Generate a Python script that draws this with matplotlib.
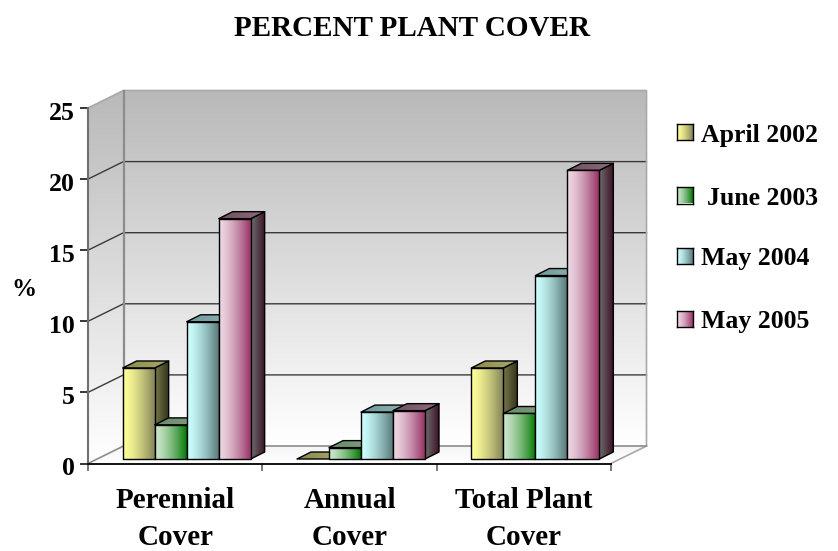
import matplotlib
matplotlib.use('Agg')
import matplotlib.pyplot as plt
from matplotlib.colors import to_rgb
from matplotlib.patches import Polygon
from matplotlib.transforms import ScaledTranslation
import numpy as np

categories = ['Perennial\nCover', 'Annual\nCover', 'Total Plant\nCover']
series_names = ['April 2002', 'June 2003', 'May 2004', 'May 2005']
april_2002 = [6.4, 0, 6.4]
june_2003 = [2.4, 0.8, 3.2]
may_2004 = [9.65, 3.3, 12.9]
may_2005 = [16.9, 3.4, 20.3]
y_ticks = [0, 5, 10, 15, 20, 25]

# face colours per series: front, side and top gradients (left -> right)
front_cols = [('#FFFF99', '#85855A'), ('#CCE6CC', '#057A05'), ('#CCFFFF', '#5A7A7A'), ('#EDD8E3', '#993366')]
side_cols = [('#77774A', '#33331A'), ('#5A7A5A', '#103A10'), ('#5F8080', '#2A4040'), ('#6E6E6E', '#3D1428')]
top_cols = [('#8A8A50', '#A8A868'), ('#6A8A6A', '#7F9F7F'), ('#6F9A9A', '#8FB0B0'), ('#70505F', '#8F6A7C')]

W, H = 838, 551
plt.rcParams['font.family'] = ['Liberation Serif', 'DejaVu Serif']
plt.rcParams['font.weight'] = 'bold'

fig = plt.figure(figsize=(W / 100, H / 100), dpi=100)
ax = fig.add_axes([88 / W, 1 - 463.5 / H, (611 - 88) / W, (463.5 - 108) / H])
ax.set_facecolor('none')

# size of one data unit in pixels, used to turn the 3d depth into data units
px_x = (611 - 88) / 3
px_y = (463.5 - 108) / 25
wall_dx, wall_dy = 35.5 / px_x, 17.5 / px_y
base_dx, base_dy = 11.5 / px_x, 4.5 / px_y
depth_dx, depth_dy = 14 / px_x, 7 / px_y
bar_w = 32 / px_x


def grad(c0, c1, vertical=False, n=64, gamma=1.0):
    a, b = np.array(to_rgb(c0)), np.array(to_rgb(c1))
    t = np.linspace(0, 1, n)[:, None] ** gamma
    img = a + (b - a) * t
    return img[:, None, :] if vertical else img[None, :, :]


def fill_poly(pts, c0, c1, vertical=False, z=1, gamma=1.0):
    pts = np.array(pts)
    ext = [pts[:, 0].min(), pts[:, 0].max(), pts[:, 1].min(), pts[:, 1].max()]
    if ext[3] - ext[2] < 1e-9:
        return
    # image row 0 sits at the top, so vertical gradients run top -> bottom
    im = ax.imshow(grad(c0, c1, vertical, gamma=gamma), extent=ext, aspect='auto', origin='upper',
                   interpolation='bilinear', zorder=z)
    im.set_clip_box(fig.bbox)
    im.set_clip_path(Polygon(pts, closed=True, transform=ax.transData))


def outline(pts, z, color='black', lw=1.0):
    ax.add_patch(Polygon(pts, closed=True, fill=False, edgecolor=color, linewidth=lw,
                         zorder=z, clip_on=False, joinstyle='round'))


ymax = y_ticks[-1]
xmax = len(categories)

# back wall, side wall and floor
fill_poly([(wall_dx, wall_dy), (xmax + wall_dx, wall_dy), (xmax + wall_dx, ymax + wall_dy), (wall_dx, ymax + wall_dy)],
          '#B9B9B9', '#FFFFFF', vertical=True, z=0.1)
fill_poly([(0, 0), (wall_dx, wall_dy), (wall_dx, ymax + wall_dy), (0, ymax)],
          '#B9B9B9', '#FFFFFF', vertical=True, z=0.1)
fill_poly([(0, 0), (xmax, 0), (xmax + wall_dx, wall_dy), (wall_dx, wall_dy)],
          '#F4F4F4', '#FFFFFF', vertical=True, z=0.1)

# gridlines on both walls
for t in y_ticks[1:-1]:
    ax.plot([0, wall_dx, xmax + wall_dx], [t, t + wall_dy, t + wall_dy], color='#3A3A3A', lw=1.0,
            zorder=0.5, clip_on=False, solid_joinstyle='miter')

# wall edges
ax.plot([0, wall_dx, xmax + wall_dx, xmax + wall_dx, xmax], [ymax, ymax + wall_dy, ymax + wall_dy, wall_dy, 0],
        color='#A8A8A8', lw=1.2, zorder=0.6, clip_on=False)
ax.plot([wall_dx, wall_dx], [wall_dy, ymax + wall_dy], color='#8C8C8C', lw=1.6, zorder=0.6, clip_on=False)
ax.plot([0, wall_dx, xmax + wall_dx], [0, wall_dy, wall_dy], color='#8C8C8C', lw=1.2, zorder=0.6, clip_on=False)

# bars, left to right so each one covers the side of the previous one
all_series = [april_2002, june_2003, may_2004, may_2005]
z = 2
for c in range(len(categories)):
    left = c + base_dx + (px_x - 128) / 2 / px_x
    for s, values in enumerate(all_series):
        v = values[c]
        x0 = left + s * bar_w
        x1 = x0 + bar_w
        y0 = base_dy
        y1 = base_dy + v
        top = [(x0, y1), (x1, y1), (x1 + depth_dx, y1 + depth_dy), (x0 + depth_dx, y1 + depth_dy)]
        side = [(x1, y0), (x1 + depth_dx, y0 + depth_dy), (x1 + depth_dx, y1 + depth_dy), (x1, y1)]
        front = [(x0, y0), (x1, y0), (x1, y1), (x0, y1)]
        fill_poly(side, *side_cols[s], z=z)
        outline(side, z + 0.1)
        fill_poly(top, *top_cols[s], z=z + 0.2)
        outline(top, z + 0.3)
        if v > 0:
            fill_poly(front, *front_cols[s], z=z + 0.4, gamma=1.4)
            outline(front, z + 0.5)
        z += 1

ax.set_xlim(0, xmax)
ax.set_ylim(0, ymax)

# axes and ticks
for name in ['top', 'right']:
    ax.spines[name].set_visible(False)
ax.spines['left'].set_color('#707070')
ax.spines['left'].set_linewidth(1.5)
ax.spines['bottom'].set_color('black')
ax.spines['bottom'].set_linewidth(1.3)
ax.spines['left'].set_zorder(50)
ax.spines['bottom'].set_zorder(50)
ax.set_yticks(y_ticks)
ax.set_yticklabels([str(t) for t in y_ticks], fontsize=18.5, fontweight='bold')
ax.tick_params(axis='y', length=5.5, width=1.1, color='black', pad=4)
# the reference's tick labels sit a little below their ticks
shift = ScaledTranslation(0, -2.5 / 100, fig.dpi_scale_trans)
for lab in ax.get_yticklabels():
    lab.set_transform(lab.get_transform() + shift)
ax.set_xticks(range(xmax + 1))
ax.set_xticklabels([])
ax.tick_params(axis='x', length=5, width=1.1, color='#555555')

for c, name in enumerate(categories):
    ax.annotate(name, xy=(c + 0.5, 0), xycoords=('data', 'axes fraction'), xytext=(0, -17),
                textcoords='offset points', ha='center', va='top', fontsize=21, fontweight='bold',
                linespacing=1.46, annotation_clip=False)

fig.text(412 / W, 1 - 29 / H, 'PERCENT PLANT COVER', ha='center', va='center', fontsize=21, fontweight='bold')
fig.text(24 / W, 1 - 289 / H, '%', ha='center', va='center', fontsize=18, fontweight='bold')

# legend drawn by hand because the swatches carry a gradient
swatch_y = [132.5, 195.5, 256, 318.5]
text_x = [701, 707, 701, 701]
for s, name in enumerate(series_names):
    y = swatch_y[s]
    sw = fig.add_axes([677 / W, 1 - (y + 8) / H, 16 / W, 16 / H])
    sw.imshow(grad(*front_cols[s], gamma=1.4), aspect='auto', interpolation='bilinear')
    sw.set_xticks([])
    sw.set_yticks([])
    for sp in sw.spines.values():
        sp.set_linewidth(1.0)
    fig.text(text_x[s] / W, 1 - (y + 3) / H, name, ha='left', va='center', fontsize=18.5, fontweight='bold')

fig.savefig('out.png', dpi=100)
